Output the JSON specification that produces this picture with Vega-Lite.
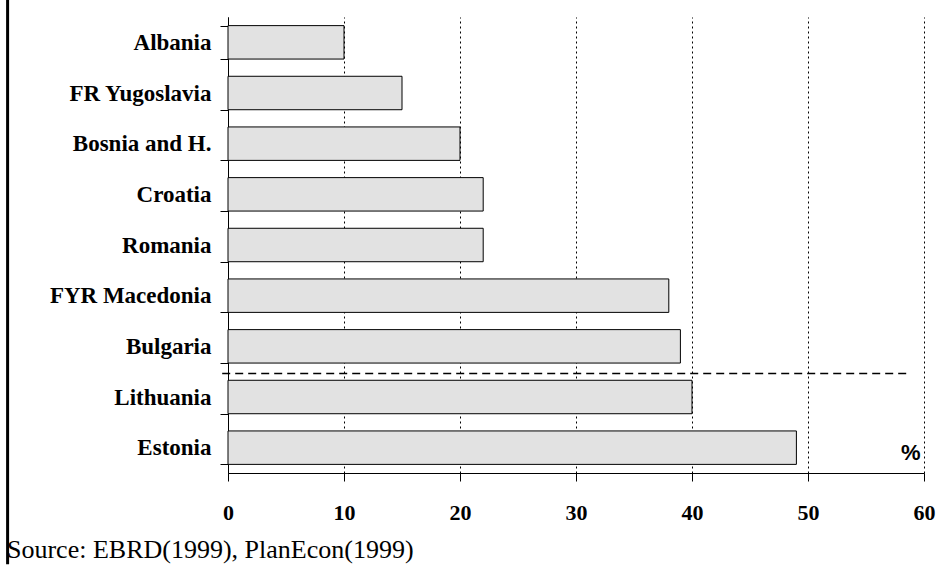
{
  "$schema": "https://vega.github.io/schema/vega-lite/v6.json",
  "autosize": "none",
  "width": 696,
  "height": 456,
  "padding": {"left": 228, "top": 17, "right": 28, "bottom": 92},
  "background": "white",
  "config": {"view": {"stroke": null}, "font": "Liberation Serif"},
  "title": {
    "text": "Source: EBRD(1999), PlanEcon(1999)",
    "orient": "bottom",
    "anchor": "start",
    "frame": "group",
    "dx": -221,
    "offset": -29,
    "font": "Liberation Serif",
    "fontSize": 26,
    "fontWeight": "normal",
    "color": "black"
  },
  "datasets": {
    "bars": [
      {"country": "Albania", "value": 10},
      {"country": "FR Yugoslavia", "value": 15},
      {"country": "Bosnia and H.", "value": 20},
      {"country": "Croatia", "value": 22},
      {"country": "Romania", "value": 22},
      {"country": "FYR Macedonia", "value": 38},
      {"country": "Bulgaria", "value": 39},
      {"country": "Lithuania", "value": 40},
      {"country": "Estonia", "value": 49}
    ],
    "sep": [{"country": "Lithuania", "x1": -0.5, "x2": 58.6}],
    "unit": [{"country": "Estonia", "x": 59.7, "label": "%"}],
    "frame": [{"x": -19.0, "y1": -0.2, "y2": 1.1}]
  },
  "layer": [
    {
      "layer": [
        {
          "data": {"name": "bars"},
          "mark": {"type": "bar", "fill": "#e2e2e2", "stroke": "black", "strokeWidth": 1},
          "encoding": {
            "y": {
              "field": "country",
              "type": "nominal",
              "sort": null,
              "scale": {"paddingInner": 0.34, "paddingOuter": 0.17},
              "axis": {
                "title": null,
                "tickBand": "extent",
                "tickSize": 8,
                "tickColor": "black",
                "domainColor": "black",
                "labelPadding": 9,
                "labelFont": "Liberation Serif",
                "labelFontWeight": "bold",
                "labelFontSize": 23,
                "labelColor": "black",
                "labelLimit": 300
              }
            },
            "x": {
              "field": "value",
              "type": "quantitative",
              "scale": {"domain": [0, 60], "nice": false},
              "axis": {
                "title": null,
                "values": [0, 10, 20, 30, 40, 50, 60],
                "grid": true,
                "gridColor": "black",
                "gridDash": [2, 3],
                "gridOpacity": 1,
                "tickSize": 8,
                "tickColor": "black",
                "domainColor": "black",
                "labelPadding": 21,
                "labelFlush": false,
                "labelFont": "Liberation Serif",
                "labelFontWeight": "bold",
                "labelFontSize": 22,
                "labelColor": "black"
              }
            }
          }
        },
        {
          "data": {"name": "sep"},
          "mark": {"type": "rule", "stroke": "black", "strokeWidth": 1.5, "strokeDash": [8, 5]},
          "encoding": {
            "y": {"field": "country", "type": "nominal", "sort": null, "bandPosition": -0.2},
            "x": {"field": "x1", "type": "quantitative"},
            "x2": {"field": "x2"}
          }
        },
        {
          "data": {"name": "unit"},
          "mark": {"type": "text", "align": "right", "baseline": "middle", "dy": 5, "font": "Liberation Sans", "fontWeight": "bold", "fontSize": 22, "color": "black"},
          "encoding": {
            "y": {"field": "country", "type": "nominal", "sort": null},
            "x": {"field": "x", "type": "quantitative"},
            "text": {"field": "label"}
          }
        }
      ]
    },
    {
      "data": {"name": "frame"},
      "mark": {"type": "rule", "stroke": "black", "strokeWidth": 3, "clip": false},
      "encoding": {
        "x": {"field": "x", "type": "quantitative"},
        "y": {"field": "y1", "type": "quantitative", "scale": {"domain": [0, 1], "nice": false, "zero": false}, "axis": null},
        "y2": {"field": "y2"}
      }
    }
  ],
  "resolve": {"scale": {"y": "independent"}}
}
